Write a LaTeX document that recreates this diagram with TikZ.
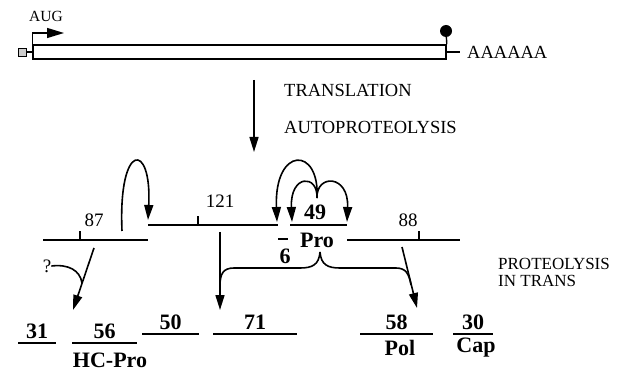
\documentclass[tikz,border=0pt]{standalone}
\usepackage{fontspec}
\setmainfont{Liberation Serif}
\usetikzlibrary{arrows.meta}

\begin{document}
\begin{tikzpicture}[x=1pt, y=1pt,
    seg/.style={line width=1.8pt},
    tick/.style={line width=1.2pt},
    arr/.style={line width=1.6pt, -{Triangle[length=15pt, width=9pt]}},
    brace/.style={line width=1.6pt},
    txt/.style={inner sep=0pt, font=\fontsize{18.5}{18.5}\selectfont},
    num/.style={inner sep=0pt, font=\fontsize{19}{19}\selectfont},
    bnum/.style={inner sep=0pt, font=\fontsize{22}{22}\selectfont\bfseries}]
    \useasboundingbox (0,0) rectangle (631,-371);

    \node[draw, line width=1.6pt, minimum width=413pt, minimum height=14pt, inner sep=0pt] (rna) at (239.5,-52) {};
    \node[draw, fill=gray!40, line width=0.8pt, minimum size=8pt, inner sep=0pt] (cap) at (22.5,-52) {};
    \draw[line width=1.2pt] (cap) -- (rna);
    \coordinate (augtip) at (64,-33);
    \draw[line width=1.3pt, -{Triangle[length=17pt, width=10pt]}] (rna.north west) |- (augtip);
    \node[txt, font=\fontsize{15.5}{15.5}\selectfont] (aug) at (46,-16) {AUG};
    \node[circle, fill, inner sep=0pt, minimum size=12pt] (stop) at (446,-31) {};
    \draw[line width=1.4pt] (stop) -- (rna.north east);
    \node[txt, anchor=west, inner xsep=7pt] (polyA) at (460,-52) {AAAAAA};
    \draw[line width=1.4pt] (rna.east) -- (polyA.west);

    \coordinate (tl) at (254,-80);
    \coordinate (tlend) at (254,-152);
    \draw[arr] (tl) -- (tlend);
    \node[txt, anchor=west] (transl) at (284,-90) {TRANSLATION};
    \node[txt, anchor=west] (autop) at (284,-127) {AUTOPROTEOLYSIS};

    \foreach \xa/\xb/\y in {43/148/240, 148/278/225, 290/347/225, 347/460/240}
        \draw[seg] (\xa,-\y) -- (\xb,-\y);
    \draw[tick] (278,-239) -- (288,-239);
    \foreach \x/\y in {80/240, 198/225, 419/240}
        \draw[tick] (\x,-\y) -- ++(0,9);
    \node[num] (n87) at (94,-220) {87};
    \node[num] (n121) at (220,-201) {121};
    \node[num] (n88) at (408,-220) {88};
    \node[bnum] (n49) at (315,-212) {49};
    \node[bnum] (pro) at (317,-240) {Pro};
    \node[bnum] (n6) at (285,-256) {6};

    \coordinate (loopsrc) at (122,-231);
    \coordinate (loopend) at (148,-220);
    \draw[arr] (loopsrc) .. controls (118,-141) and (152,-141) .. (loopend);
    \coordinate (arcsrc) at (317,-198);
    \coordinate (arcbig) at (277,-222);
    \coordinate (arcleft) at (292,-222);
    \coordinate (arcright) at (347,-222);
    \draw[arr] (arcsrc) .. controls (320,-146) and (274,-146) .. (arcbig);
    \draw[arr] (arcsrc) .. controls (318,-174) and (290,-174) .. (arcleft);
    \draw[arr] (arcsrc) .. controls (316,-174) and (349,-174) .. (arcright);

    \coordinate (a87s) at (94,-248);
    \coordinate (a87e) at (73,-310);
    \coordinate (a87j) at (82,-283);
    \coordinate (a71s) at (220,-232);
    \coordinate (a71e) at (220,-310);
    \coordinate (a88s) at (402,-247);
    \coordinate (a88e) at (417,-308);
    \coordinate (a88j) at (411,-285);
    \draw[arr] (a87s) -- (a87e);
    \draw[arr] (a71s) -- (a71e);
    \draw[arr] (a88s) -- (a88e);
    \node[num] (q) at (47,-266) {?};
    \draw[brace] (q.east) .. controls (68,-264) and (80,-270) .. (a87j);
    \coordinate (brsrc) at (320,-252);
    \draw[brace] (brsrc) .. controls (319,-265) and (312,-268) .. (300,-268) -- (234,-268)
        .. controls (223,-268) and (220,-274) .. (a71s |- 0,-286);
    \draw[brace] (brsrc) .. controls (321,-265) and (328,-268) .. (340,-268) -- (396,-268)
        .. controls (406,-268) and (409,-274) .. (a88j);

    \foreach \xa/\xb/\y/\lab in {18/56/343/31, 72/137/343/56, 142/199/334/50,
                                  213/297/334/71, 360/433/334/58, 453/493/334/30} {
        \draw[seg] (\xa,-\y) -- (\xb,-\y);
        \node[bnum] (p\lab) at ({(\xa+\xb)/2},{-\y+12}) {\lab};
    }
    \node[bnum] (hcpro) at (110,-360) {HC-Pro};
    \node[bnum] (pol) at (400,-348) {Pol};
    \node[bnum] (capl) at (476,-348) {Cap};
    \node[txt, anchor=north west, align=left, font=\fontsize{17}{17}\selectfont] (trans) at (498,-258) {PROTEOLYSIS\\IN TRANS};
\end{tikzpicture}
\end{document}
